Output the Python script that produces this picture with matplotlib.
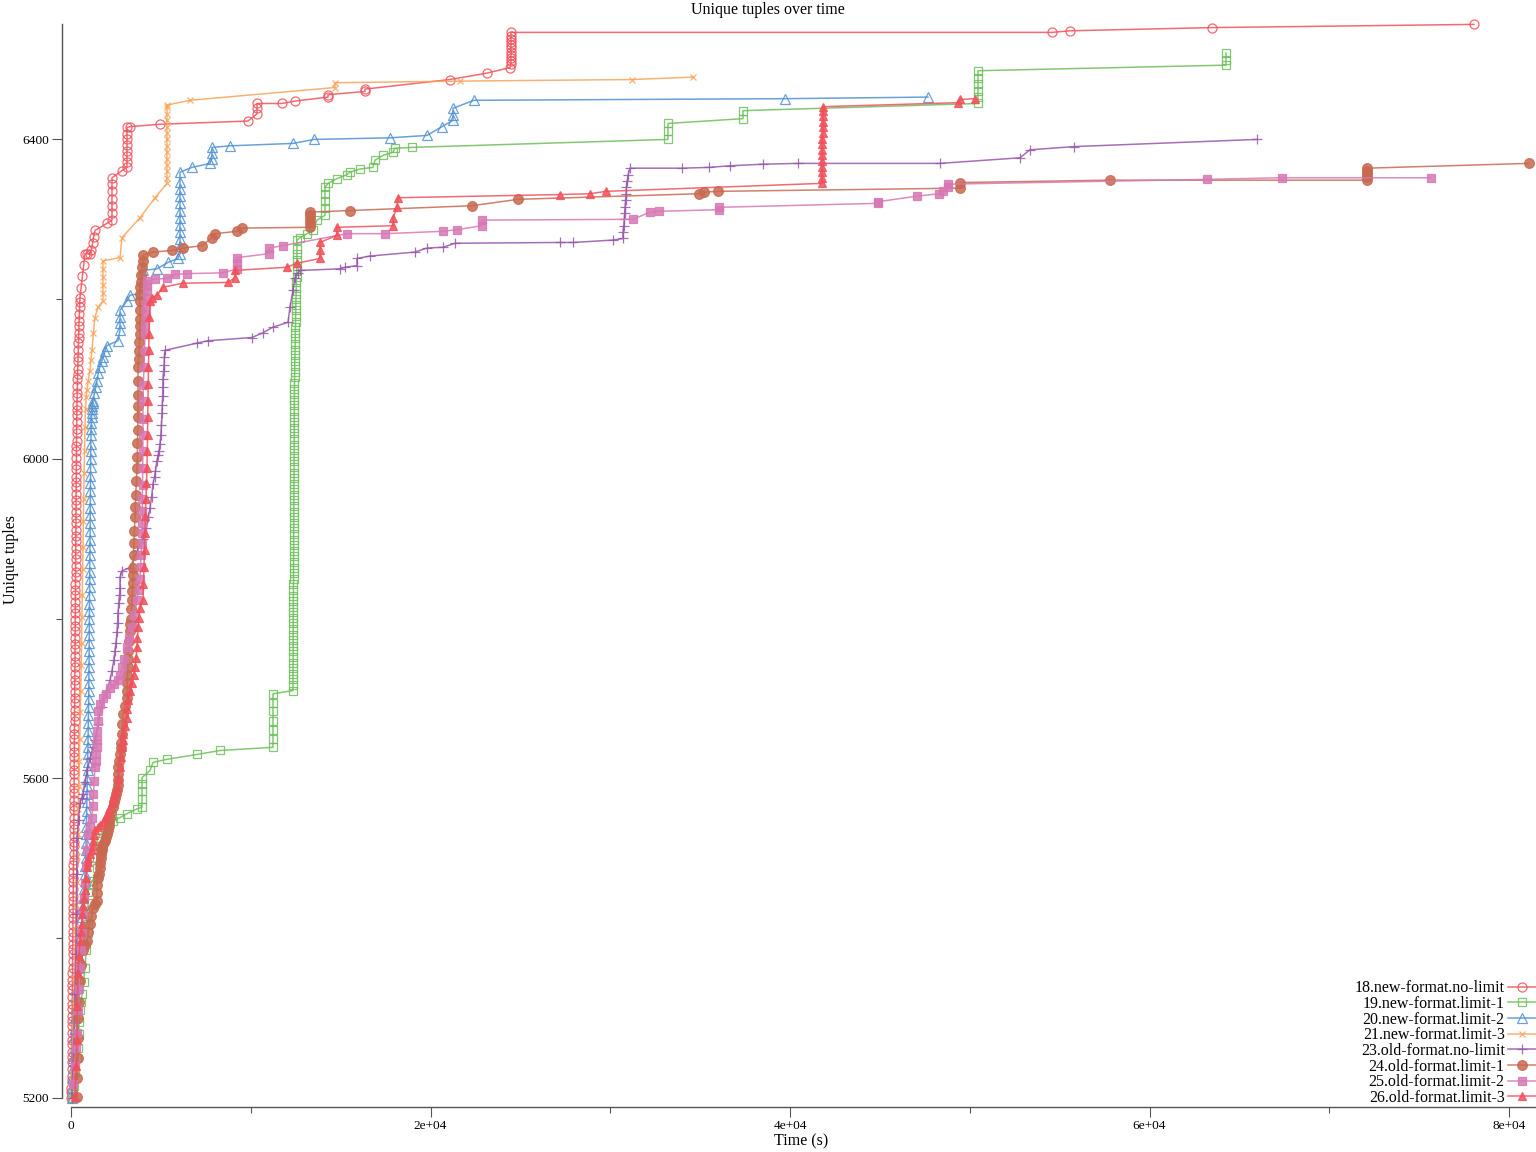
import matplotlib.pyplot as plt

plt.rcParams['font.family'] = ['Liberation Serif', 'DejaVu Serif']

# (time in s, unique tuples) for every run
run18 = [(20, 5200), (23, 5207), (27, 5213), (29, 5222), (33, 5228), (36, 5236), (38, 5245), (42, 5251), (45, 5258),
         (47, 5267), (51, 5273), (54, 5281), (56, 5290), (60, 5296), (63, 5303), (65, 5312), (69, 5318), (72, 5326),
         (74, 5335), (78, 5341), (81, 5348), (83, 5357), (87, 5363), (90, 5371), (92, 5380), (96, 5386), (99, 5393),
         (101, 5402), (105, 5408), (108, 5416), (110, 5425), (114, 5431), (117, 5438), (119, 5447), (123, 5453),
         (126, 5461), (128, 5470), (132, 5476), (135, 5483), (137, 5492), (141, 5498), (144, 5506), (146, 5515),
         (150, 5521), (153, 5528), (155, 5537), (158, 5543), (160, 5551), (163, 5560), (165, 5566), (167, 5573),
         (170, 5582), (172, 5588), (174, 5596), (177, 5605), (179, 5611), (181, 5618), (184, 5627), (186, 5633),
         (188, 5641), (191, 5650), (193, 5656), (195, 5663), (198, 5672), (200, 5678), (202, 5686), (205, 5695),
         (207, 5701), (209, 5708), (212, 5717), (214, 5723), (216, 5731), (219, 5740), (221, 5746), (223, 5753),
         (226, 5762), (228, 5768), (230, 5776), (233, 5785), (235, 5791), (237, 5798), (240, 5807), (242, 5813),
         (244, 5821), (247, 5830), (249, 5836), (251, 5843), (254, 5852), (256, 5858), (258, 5866), (261, 5875),
         (263, 5881), (265, 5888), (268, 5897), (270, 5903), (272, 5911), (275, 5920), (277, 5926), (279, 5933),
         (282, 5942), (284, 5948), (286, 5956), (289, 5965), (291, 5971), (293, 5978), (296, 5987), (298, 5993),
         (300, 6001), (303, 6010), (305, 6016), (307, 6023), (310, 6032), (313, 6038), (317, 6046), (322, 6055),
         (327, 6061), (333, 6068), (340, 6077), (346, 6083), (353, 6091), (361, 6100), (368, 6106), (376, 6113),
         (385, 6122), (393, 6128), (402, 6136), (412, 6145), (421, 6151), (431, 6158), (442, 6167), (452, 6173),
         (463, 6181), (475, 6190), (487, 6196), (500, 6202), (560, 6214), (630, 6229), (700, 6243), (779, 6257),
         (900, 6257), (1057, 6257), (1140, 6262), (1200, 6270), (1260, 6278), (1335, 6286), (2003, 6295),
         (2281, 6299), (2281, 6308), (2281, 6317), (2281, 6326), (2281, 6335), (2281, 6344), (2281, 6352),
         (2837, 6361), (3115, 6365), (3115, 6372), (3115, 6379), (3115, 6386), (3115, 6393), (3115, 6400),
         (3115, 6407), (3115, 6415), (3282, 6416), (4951, 6419), (9847, 6423), (10347, 6432), (10347, 6439),
         (10347, 6445), (11738, 6445), (12461, 6448), (14297, 6453), (14297, 6456), (16355, 6460), (16355, 6463),
         (21084, 6475), (23142, 6483), (24422, 6490), (24477, 6494), (24477, 6498), (24477, 6502), (24477, 6506),
         (24477, 6510), (24477, 6514), (24477, 6518), (24477, 6522), (24477, 6526), (24477, 6530), (24477, 6534),
         (54573, 6534), (55574, 6536), (63474, 6540), (78050, 6544)]

run19 = [(40, 5200), (150, 5215), (250, 5232), (330, 5250), (389, 5263), (420, 5280), (450, 5295), (500, 5310),
         (560, 5320), (612, 5330), (700, 5345), (779, 5363), (850, 5385), (946, 5406), (946, 5418), (946, 5431),
         (946, 5444), (946, 5458), (1060, 5466), (1168, 5472), (1446, 5476), (1446, 5488), (1446, 5500),
         (1446, 5512), (1446, 5522), (1502, 5526), (2336, 5547), (2726, 5551), (3115, 5556), (3672, 5562),
         (3950, 5564), (3950, 5574), (3950, 5584), (3950, 5593), (3950, 5601), (4395, 5610), (4562, 5620),
         (5340, 5624), (7009, 5630), (8289, 5635), (11237, 5639), (11237, 5650), (11237, 5661), (11237, 5672),
         (11237, 5684), (11237, 5695), (11237, 5706), (12350, 5710), (12350, 5717), (12352, 5724), (12353, 5731),
         (12355, 5738), (12356, 5745), (12358, 5752), (12359, 5759), (12361, 5766), (12362, 5773), (12364, 5780),
         (12365, 5787), (12367, 5794), (12368, 5801), (12370, 5808), (12371, 5815), (12373, 5822), (12374, 5829),
         (12376, 5836), (12377, 5843), (12379, 5850), (12380, 5857), (12382, 5864), (12383, 5871), (12385, 5878),
         (12386, 5885), (12388, 5892), (12389, 5899), (12391, 5906), (12392, 5913), (12394, 5920), (12395, 5927),
         (12397, 5934), (12398, 5941), (12400, 5948), (12401, 5955), (12403, 5962), (12404, 5969), (12406, 5976),
         (12407, 5983), (12409, 5990), (12410, 5997), (12412, 6004), (12413, 6011), (12415, 6018), (12416, 6025),
         (12418, 6032), (12419, 6039), (12421, 6046), (12422, 6053), (12424, 6060), (12425, 6067), (12427, 6074),
         (12428, 6081), (12430, 6088), (12433, 6095), (12437, 6102), (12442, 6109), (12447, 6116), (12452, 6123),
         (12457, 6130), (12462, 6137), (12467, 6144), (12472, 6151), (12478, 6158), (12484, 6165), (12490, 6172),
         (12496, 6179), (12502, 6186), (12508, 6193), (12515, 6200), (12522, 6207), (12530, 6214), (12538, 6221),
         (12546, 6228), (12554, 6235), (12562, 6242), (12572, 6249), (12572, 6256), (12572, 6263), (12572, 6274),
         (12739, 6277), (13129, 6282), (13462, 6286), (13685, 6299), (14130, 6305), (14130, 6314), (14130, 6323),
         (14130, 6332), (14130, 6340), (14297, 6345), (14798, 6351), (15354, 6356), (15521, 6359), (16077, 6363),
         (16800, 6365), (16912, 6374), (17356, 6380), (17913, 6384), (18024, 6389), (18970, 6390), (33211, 6400),
         (33211, 6410), (33211, 6420), (37384, 6426), (37384, 6436), (50457, 6445), (50457, 6453), (50457, 6461),
         (50457, 6469), (50457, 6477), (50457, 6486), (64253, 6493), (64253, 6500), (64253, 6508)]

run20 = [(40, 5200), (60, 5212), (80, 5225), (100, 5237), (120, 5250), (145, 5263), (170, 5276), (200, 5288),
         (230, 5300), (265, 5313), (300, 5326), (335, 5338), (370, 5350), (405, 5363), (440, 5376), (480, 5388),
         (520, 5400), (560, 5413), (600, 5426), (640, 5438), (680, 5450), (720, 5461), (760, 5472), (780, 5481),
         (800, 5490), (815, 5500), (830, 5510), (840, 5519), (850, 5530), (860, 5539), (870, 5550), (880, 5559),
         (890, 5570), (898, 5580), (905, 5590), (912, 5599), (920, 5610), (928, 5620), (935, 5630), (942, 5639),
         (950, 5650), (958, 5660), (965, 5670), (972, 5679), (978, 5690), (984, 5700), (990, 5710), (995, 5720),
         (1000, 5730), (1004, 5739), (1008, 5750), (1012, 5760), (1015, 5770), (1018, 5779), (1020, 5790),
         (1023, 5800), (1026, 5810), (1029, 5819), (1032, 5830), (1035, 5840), (1038, 5850), (1041, 5859),
         (1044, 5870), (1047, 5880), (1050, 5890), (1053, 5899), (1057, 5910), (1060, 5920), (1064, 5930),
         (1068, 5939), (1072, 5950), (1076, 5960), (1080, 5970), (1085, 5979), (1090, 5990), (1095, 6000),
         (1100, 6010), (1106, 6019), (1112, 6030), (1120, 6038), (1130, 6045), (1145, 6052), (1160, 6058),
         (1175, 6062), (1190, 6066), (1205, 6070), (1224, 6073), (1300, 6082), (1380, 6090), (1446, 6098),
         (1520, 6108), (1600, 6115), (1700, 6122), (1780, 6127), (1890, 6135), (2003, 6142), (2615, 6148),
         (2726, 6161), (2726, 6170), (2726, 6178), (2726, 6186), (3115, 6198), (3282, 6205), (3838, 6207),
         (4005, 6236), (4784, 6238), (5396, 6246), (5952, 6251), (6064, 6257), (6064, 6266), (6064, 6275),
         (6064, 6284), (6064, 6293), (6064, 6302), (6064, 6311), (6064, 6320), (6064, 6329), (6064, 6338),
         (6064, 6347), (6064, 6359), (6731, 6365), (7733, 6370), (7844, 6376), (7844, 6383), (7844, 6390),
         (8845, 6392), (12350, 6395), (13518, 6400), (17746, 6402), (19804, 6405), (20639, 6416), (21251, 6424),
         (21251, 6431), (21251, 6439), (22419, 6449), (39720, 6451), (47674, 6453)]

run21 = [(40, 5200), (70, 5230), (100, 5262), (130, 5290), (160, 5322), (190, 5350), (220, 5383), (250, 5410),
         (280, 5442), (310, 5470), (340, 5503), (370, 5530), (400, 5562), (430, 5590), (460, 5622), (490, 5650),
         (520, 5683), (545, 5710), (570, 5742), (590, 5770), (610, 5802), (630, 5830), (650, 5862), (670, 5890),
         (690, 5922), (710, 5950), (730, 5982), (755, 6010), (780, 6040), (810, 6062), (850, 6078), (890, 6086),
         (960, 6098), (1050, 6110), (1110, 6124), (1168, 6136), (1250, 6158), (1335, 6177), (1500, 6190),
         (1780, 6198), (1780, 6208), (1780, 6218), (1780, 6228), (1780, 6238), (1780, 6248), (2726, 6252),
         (2837, 6277), (3838, 6302), (4673, 6327), (5340, 6345), (5340, 6352), (5340, 6360), (5340, 6368),
         (5340, 6376), (5340, 6384), (5340, 6392), (5340, 6400), (5340, 6408), (5340, 6416), (5340, 6424),
         (5340, 6432), (5340, 6440), (5340, 6443), (6620, 6449), (14686, 6465), (14700, 6471), (21640, 6473),
         (31209, 6475), (34602, 6478)]

run23 = [(40, 5200), (100, 5240), (160, 5280), (220, 5330), (270, 5380), (300, 5430), (320, 5480), (334, 5526),
         (420, 5548), (500, 5569), (600, 5576), (667, 5581), (780, 5596), (900, 5610), (1060, 5625), (1224, 5639),
         (1335, 5648), (1500, 5668), (1700, 5690), (1950, 5708), (2170, 5723), (2281, 5735), (2380, 5748),
         (2448, 5760), (2500, 5770), (2559, 5783), (2590, 5795), (2615, 5807), (2660, 5820), (2700, 5830),
         (2726, 5839), (2726, 5852), (2837, 5860), (3282, 5864), (3700, 5885), (4000, 5900), (4200, 5914),
         (4300, 5927), (4395, 5939), (4480, 5952), (4562, 5969), (4650, 5978), (4700, 5985), (4784, 5998),
         (4850, 6005), (4900, 6010), (4951, 6019), (5000, 6030), (5030, 6042), (5062, 6057), (5080, 6068),
         (5100, 6079), (5110, 6090), (5118, 6100), (5150, 6110), (5180, 6118), (5200, 6127), (5229, 6136),
         (7009, 6145), (7621, 6148), (10069, 6152), (10681, 6158), (11237, 6165), (12072, 6171), (12183, 6190),
         (12350, 6211), (12461, 6227), (12628, 6233), (12739, 6236), (14964, 6238), (15243, 6240), (15910, 6242),
         (15910, 6251), (16633, 6254), (19137, 6259), (19804, 6264), (20694, 6265), (21362, 6270), (27203, 6271),
         (27926, 6271), (30151, 6274), (30708, 6276), (30708, 6284), (30750, 6292), (30780, 6300), (30800, 6308),
         (30830, 6316), (30850, 6324), (30880, 6332), (30900, 6340), (30950, 6348), (31000, 6356), (31097, 6364),
         (33990, 6364), (35492, 6365), (36660, 6367), (38496, 6369), (40443, 6370), (48343, 6370), (52793, 6377),
         (53349, 6387), (55797, 6391), (65977, 6400)]

run24 = [(334, 5201), (360, 5225), (389, 5250), (389, 5275), (389, 5300), (420, 5320), (500, 5347), (580, 5366),
         (667, 5385), (780, 5392), (890, 5397), (970, 5408), (1057, 5418), (1140, 5428), (1224, 5438), (1330, 5443),
         (1446, 5447), (1446, 5456), (1470, 5466), (1502, 5476), (1560, 5481), (1590, 5488), (1613, 5494),
         (1650, 5500), (1680, 5505), (1700, 5510), (1725, 5514), (1800, 5518), (1891, 5522), (1950, 5527),
         (2003, 5531), (2050, 5536), (2100, 5541), (2140, 5546), (2170, 5551), (2250, 5558), (2336, 5564),
         (2400, 5570), (2450, 5575), (2500, 5580), (2559, 5585), (2590, 5592), (2615, 5598), (2615, 5606),
         (2615, 5614), (2680, 5622), (2726, 5631), (2770, 5638), (2800, 5645), (2837, 5656), (2860, 5668),
         (2893, 5681), (3000, 5691), (3115, 5701), (3120, 5710), (3130, 5720), (3140, 5730), (3150, 5740),
         (3160, 5750), (3171, 5760), (3230, 5772), (3282, 5785), (3310, 5793), (3330, 5800), (3360, 5812),
         (3393, 5823), (3420, 5835), (3435, 5845), (3449, 5855), (3460, 5864), (3480, 5880), (3500, 5895),
         (3530, 5910), (3560, 5927), (3580, 5940), (3600, 5955), (3640, 5972), (3672, 5989), (3690, 6003),
         (3700, 6020), (3715, 6036), (3727, 6052), (3727, 6066), (3727, 6080), (3727, 6098), (3727, 6115),
         (3760, 6125), (3780, 6135), (3810, 6146), (3838, 6157), (3838, 6166), (3838, 6175), (3838, 6186),
         (3838, 6198), (3838, 6206), (3838, 6215), (3870, 6222), (3900, 6230), (3950, 6240), (3980, 6248),
         (4005, 6255), (4562, 6259), (5619, 6261), (6231, 6264), (7288, 6267), (7844, 6277), (8011, 6282),
         (9235, 6285), (9513, 6289), (13296, 6290), (13296, 6295), (13296, 6300), (13296, 6305), (13296, 6309),
         (15521, 6311), (22307, 6317), (24866, 6325), (34936, 6332), (35214, 6334), (35993, 6335), (49456, 6339),
         (49456, 6346), (57800, 6349), (72098, 6349), (72098, 6353), (72098, 6357), (72098, 6361), (72098, 6364),
         (81100, 6370)]

run25 = [(111, 5218), (200, 5240), (280, 5262), (334, 5281), (400, 5310), (450, 5337), (500, 5363), (560, 5385),
         (612, 5406), (680, 5430), (730, 5450), (779, 5469), (830, 5490), (890, 5510), (946, 5531), (1050, 5541),
         (1168, 5551), (1210, 5565), (1250, 5580), (1290, 5597), (1335, 5614), (1370, 5622), (1400, 5630),
         (1420, 5640), (1446, 5648), (1470, 5660), (1490, 5672), (1502, 5685), (1600, 5693), (1780, 5701),
         (1950, 5706), (2170, 5713), (2400, 5718), (2615, 5723), (2720, 5730), (2837, 5739), (2950, 5750),
         (3115, 5764), (3250, 5776), (3393, 5789), (3530, 5805), (3672, 5823), (3760, 5836), (3838, 5850),
         (3870, 5865), (3900, 5880), (3925, 5893), (3950, 5907), (3960, 5920), (3965, 5935), (3970, 5950),
         (3980, 5968), (3990, 5989), (4000, 6010), (4005, 6030), (4005, 6050), (4005, 6073), (4030, 6093),
         (4060, 6115), (4090, 6135), (4117, 6157), (4140, 6168), (4170, 6180), (4200, 6191), (4228, 6202),
         (4228, 6210), (4228, 6217), (4228, 6223), (4673, 6225), (5340, 6226), (5786, 6231), (6453, 6232),
         (8456, 6233), (9235, 6238), (9235, 6245), (9235, 6252), (11015, 6257), (11015, 6264), (11794, 6267),
         (15354, 6282), (17468, 6282), (20694, 6285), (21473, 6287), (22864, 6292), (22864, 6299), (31264, 6300),
         (32210, 6309), (32710, 6310), (36048, 6312), (36048, 6315), (44893, 6320), (44893, 6322), (47063, 6329),
         (48287, 6332), (48509, 6336), (48787, 6340), (48800, 6344), (63196, 6350), (67368, 6352), (75657, 6352)]

run26 = [(222, 5201), (280, 5240), (334, 5272), (360, 5315), (389, 5356), (450, 5378), (500, 5397), (560, 5408),
         (612, 5418), (640, 5430), (667, 5440), (720, 5450), (779, 5460), (830, 5475), (890, 5489), (920, 5495),
         (946, 5501), (1060, 5506), (1168, 5510), (1200, 5516), (1224, 5522), (1280, 5529), (1335, 5535),
         (1502, 5539), (1640, 5542), (1780, 5545), (1900, 5550), (2003, 5556), (2140, 5562), (2281, 5569),
         (2336, 5576), (2450, 5582), (2559, 5589), (2640, 5601), (2726, 5614), (2780, 5627), (2837, 5639),
         (2870, 5648), (2893, 5656), (3000, 5666), (3115, 5676), (3140, 5687), (3171, 5698), (3280, 5709),
         (3393, 5719), (3480, 5729), (3560, 5739), (3620, 5751), (3672, 5764), (3700, 5776), (3727, 5789),
         (3780, 5801), (3838, 5814), (4005, 5823), (4030, 5844), (4060, 5865), (4090, 5886), (4117, 5907),
         (4140, 5928), (4170, 5950), (4200, 5970), (4228, 5989), (4245, 6010), (4260, 6030), (4270, 6052),
         (4280, 6073), (4295, 6094), (4310, 6115), (4325, 6136), (4339, 6157), (4365, 6178), (4395, 6198),
         (4506, 6202), (4784, 6205), (5118, 6215), (6231, 6220), (8734, 6221), (9123, 6227), (9123, 6236),
         (12016, 6240), (12572, 6245), (13852, 6251), (13852, 6261), (13852, 6271), (14798, 6280), (14798, 6290),
         (17913, 6292), (17913, 6302), (18135, 6315), (18191, 6327), (27203, 6331), (28872, 6332), (29762, 6335),
         (41778, 6345), (41778, 6352), (41778, 6359), (41778, 6366), (41778, 6373), (41790, 6380), (41800, 6387),
         (41800, 6394), (41800, 6401), (41810, 6408), (41820, 6415), (41834, 6422), (41834, 6429), (41834, 6435),
         (41834, 6441), (49345, 6446), (49456, 6450), (50290, 6451)]

runs = [run18, run19, run20, run21, run23, run24, run25, run26]
labels = ['18.new-format.no-limit', '19.new-format.limit-1', '20.new-format.limit-2', '21.new-format.limit-3',
          '23.old-format.no-limit', '24.old-format.limit-1', '25.old-format.limit-2', '26.old-format.limit-3']
colors = ['#f0505a', '#6cbf5a', '#4f91d2', '#f9a45a', '#9655aa', '#c86950', '#d778b4', '#f0505a']
markers = ['o', 's', '^', 'x', '+', 'o', 's', '^']
msizes = [6.5, 6, 6.5, 5, 7, 7, 5.5, 6]
filled = [False, False, False, False, False, True, True, True]

x_ticks = [0, 20000, 40000, 60000, 80000]
x_ticklabels = ['0', '2e+04', '4e+04', '6e+04', '8e+04']
x_minor = [10000, 30000, 50000, 70000]
y_ticks = [5200, 5600, 6000, 6400]
y_minor = [5400, 5800, 6200]

W, H = 1536, 1152
fig = plt.figure(figsize=(W / 100, H / 100), dpi=100)
ax = fig.add_axes([62 / W, 1 - 1107 / H, 1 - 62 / W, (1107 - 24) / H])

for run, lab, col, mk, ms, fl in zip(runs, labels, colors, markers, msizes, filled):
    t = [p[0] for p in run]
    u = [p[1] for p in run]
    ax.plot(t, u, color=col, lw=1.1, marker=mk, ms=ms, mew=0.9,
            mfc=col if fl else 'none', mec=col, alpha=0.85, label=lab, clip_on=False)

ax.set_xlim(-500, 81500)
ax.set_ylim(5188.7, 6544.5)

for side in ['top', 'right']:
    ax.spines[side].set_visible(False)
ax.spines['left'].set_bounds(5200, 6544.5)
ax.spines['bottom'].set_bounds(0, 81500)
for side in ['left', 'bottom']:
    ax.spines[side].set_color('#555555')
    ax.spines[side].set_linewidth(1.0)

ax.set_xticks(x_ticks)
ax.set_xticklabels(x_ticklabels)
ax.set_xticks(x_minor, minor=True)
ax.set_yticks(y_ticks)
ax.set_yticks(y_minor, minor=True)
ax.tick_params(which='major', direction='out', length=7.5, width=0.8, color='#555555',
               labelsize=9.6, pad=2)
ax.tick_params(which='minor', direction='out', length=4.5, width=0.8, color='#555555')

fig.text(0.5, 1 - 10 / H, 'Unique tuples over time', ha='center', va='center', fontsize=11.5)
fig.text(801 / W, 1 - 1141 / H, 'Time (s)', ha='center', va='center', fontsize=11.5)
fig.text(11 / W, 1 - 560 / H, 'Unique tuples', ha='center', va='center', rotation=90, fontsize=11.5)

fig.legend(loc='lower right', bbox_to_anchor=(1.0, 1 - 1106 / H), frameon=False, fontsize=11.5,
           markerfirst=False, handlelength=1.76, handletextpad=0.2, labelspacing=-0.02,
           borderpad=0, borderaxespad=0)

fig.savefig('out.png', dpi=100)
